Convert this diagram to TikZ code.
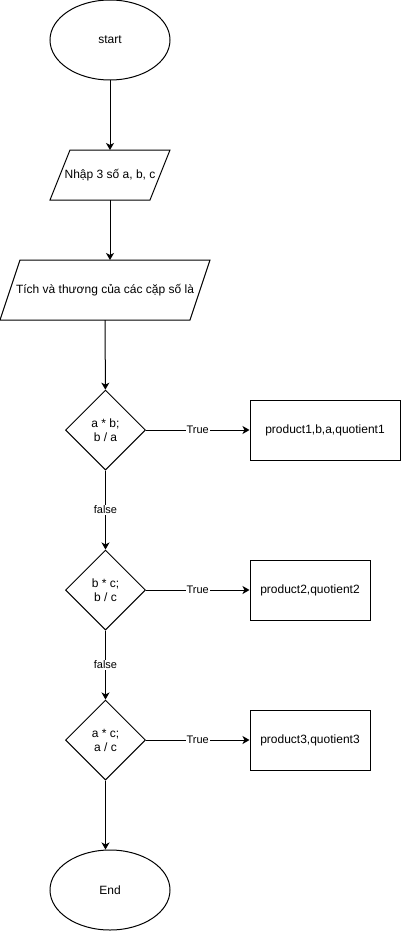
\documentclass[tikz,border=0pt]{standalone}
\usepackage{fontspec}
\setmainfont{Liberation Sans}
\usetikzlibrary{arrows.meta,shapes.geometric}

\begin{document}
\begin{tikzpicture}[x=1pt,y=-1pt,line width=1pt,
                    font=\fontsize{12}{14}\selectfont]
\useasboundingbox (0,0) rectangle (401,931);

\begin{scope}[every node/.style={draw,inner sep=0pt,align=center}]
	\node (start) [ellipse,minimum width=120,minimum height=80] at (110,40) {start};
	\node (in1) [draw=none,outer sep=0pt,minimum width=120,minimum height=50] at (110,175) {Nhập 3 số a, b, c};
	\node (in2) [draw=none,outer sep=0pt,minimum width=210,minimum height=60] at (105,290) {Tích và thương của các cặp số là};
	\node (ab) [diamond,minimum width=80,minimum height=80] at (105.5,430) {a * b;\\b / a};
	\node (bc) [diamond,minimum width=80,minimum height=80] at (105.5,590) {b * c;\\b / c};
	\node (ac) [diamond,minimum width=80,minimum height=80] at (105.5,740) {a * c;\\a / c};
	\node (out1) [minimum width=150,minimum height=60] at (325,430) {product1,b,a,quotient1};
	\node (out2) [minimum width=120,minimum height=60] at (310,590) {product2,quotient2};
	\node (out3) [minimum width=120,minimum height=60] at (310,740) {product3,quotient3};
	\node (end) [ellipse,minimum width=120,minimum height=80] at (110,890) {End};
\end{scope}

% parallelogram outlines of the two input/output boxes
\foreach \n in {in1,in2}
	\draw ([xshift=20]\n.north west) -- (\n.north east) -- ([xshift=-20]\n.south east) -- (\n.south west) -- cycle;

\begin{scope}[>={Stealth[length=7,width=8,inset=2]},
              every node/.style={fill=white,inner sep=1pt,font=\fontsize{11}{13}\selectfont},
              every edge/.style={draw=black,line width=1pt}]
	\path [->] (start) edge (in1);
	\path [->] (in1) edge (in1 |- in2.north);
	\path [->] (in2) edge (ab);
	\path [->] (ab) edge node {True} (out1);
	\path [->] (ab) edge node {false} (bc);
	\path [->] (bc) edge node {True} (out2);
	\path [->] (bc) edge node {false} (ac);
	\path [->] (ac) edge node {True} (out3);
	\path [->] (ac) edge (ac |- end.north);
\end{scope}
\end{tikzpicture}
\end{document}
